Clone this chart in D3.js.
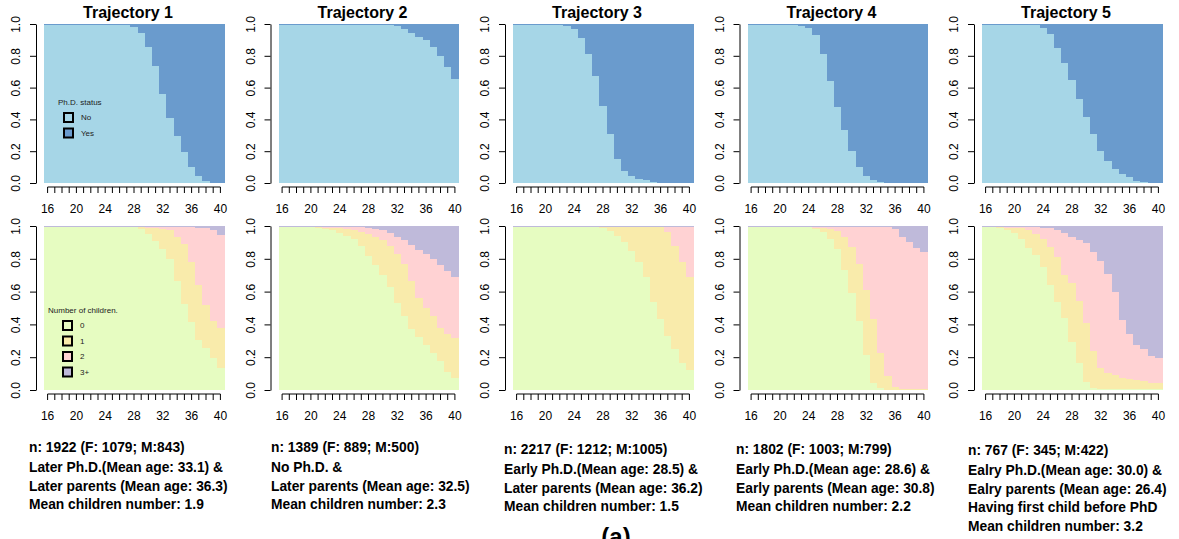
<!DOCTYPE html>
<html>
<head>
<meta charset="utf-8">
<script src="https://cdn.jsdelivr.net/npm/d3@7"></script>
<style>
  body { margin: 0; background: #fff; }
  svg { display: block; font-family: "Liberation Sans", Arial, sans-serif; }
</style>
</head>
<body>
<div id="chart_container"></div>
<script>
// Ages on the x axis and the labelled ones
var ages = [16, 17, 18, 19, 20, 21, 22, 23, 24, 25, 26, 27, 28, 29, 30, 31, 32, 33, 34, 35, 36, 37, 38, 39, 40];
var ageLabels = [16, 20, 24, 28, 32, 36, 40];
var yTicks = [0, 0.2, 0.4, 0.6, 0.8, 1];

var titles = ["Trajectory 1", "Trajectory 2", "Trajectory 3", "Trajectory 4", "Trajectory 5"];

var phdStates = ["No", "Yes"];
var phdColors = ["#a6d6e7", "#6a9bcd"];
var kidStates = ["0", "1", "2", "3+"];
var kidColors = ["#e6fcc1", "#f9ebab", "#ffd2d3", "#bfbada"];

// Ph.D. status shares by age, one row per trajectory
var phdNo = [
  [0.996, 0.996, 0.996, 0.996, 0.996, 0.996, 0.996, 0.996, 0.996, 0.996, 0.996, 0.996, 0.983, 0.946, 0.858, 0.738, 0.561, 0.406, 0.293, 0.192, 0.098, 0.042, 0.01, 0, 0],
  [0.996, 0.996, 0.996, 0.996, 0.996, 0.996, 0.996, 0.996, 0.996, 0.996, 0.996, 0.996, 0.996, 0.996, 0.996, 0.996, 0.987, 0.969, 0.944, 0.918, 0.9, 0.856, 0.8, 0.73, 0.655],
  [0.996, 0.996, 0.996, 0.996, 0.996, 0.996, 0.996, 0.99, 0.969, 0.914, 0.812, 0.674, 0.485, 0.31, 0.151, 0.077, 0.046, 0.027, 0.019, 0.004, 0, 0, 0, 0, 0],
  [0.996, 0.996, 0.996, 0.996, 0.996, 0.996, 0.996, 0.99, 0.973, 0.931, 0.812, 0.644, 0.475, 0.335, 0.203, 0.1, 0.042, 0.021, 0.008, 0.002, 0, 0, 0, 0, 0],
  [0.996, 0.996, 0.996, 0.996, 0.996, 0.996, 0.996, 0.996, 0.975, 0.94, 0.851, 0.757, 0.649, 0.53, 0.416, 0.31, 0.203, 0.14, 0.088, 0.059, 0.04, 0.01, 0.004, 0, 0]
];
var phdYes = [
  [0.004, 0.004, 0.004, 0.004, 0.004, 0.004, 0.004, 0.004, 0.004, 0.004, 0.004, 0.004, 0.017, 0.054, 0.142, 0.262, 0.439, 0.594, 0.707, 0.808, 0.902, 0.958, 0.99, 1, 1],
  [0.004, 0.004, 0.004, 0.004, 0.004, 0.004, 0.004, 0.004, 0.004, 0.004, 0.004, 0.004, 0.004, 0.004, 0.004, 0.004, 0.013, 0.031, 0.056, 0.082, 0.1, 0.144, 0.2, 0.27, 0.345],
  [0.004, 0.004, 0.004, 0.004, 0.004, 0.004, 0.004, 0.01, 0.031, 0.086, 0.188, 0.326, 0.515, 0.69, 0.849, 0.923, 0.954, 0.973, 0.981, 0.996, 1, 1, 1, 1, 1],
  [0.004, 0.004, 0.004, 0.004, 0.004, 0.004, 0.004, 0.01, 0.027, 0.069, 0.188, 0.356, 0.525, 0.665, 0.797, 0.9, 0.958, 0.979, 0.992, 0.998, 1, 1, 1, 1, 1],
  [0.004, 0.004, 0.004, 0.004, 0.004, 0.004, 0.004, 0.004, 0.025, 0.06, 0.149, 0.243, 0.351, 0.47, 0.584, 0.69, 0.797, 0.86, 0.912, 0.941, 0.96, 0.99, 0.996, 1, 1]
];

// Number of children shares by age, one row per trajectory
var kids0 = [
  [0.996, 0.996, 0.996, 0.996, 0.996, 0.996, 0.996, 0.996, 0.996, 0.996, 0.996, 0.996, 0.996, 0.98, 0.953, 0.91, 0.862, 0.8, 0.663, 0.527, 0.412, 0.304, 0.258, 0.193, 0.136],
  [0.996, 0.996, 0.996, 0.996, 0.994, 0.99, 0.984, 0.974, 0.96, 0.94, 0.919, 0.878, 0.817, 0.76, 0.7, 0.629, 0.533, 0.45, 0.371, 0.325, 0.274, 0.227, 0.176, 0.108, 0.075],
  [0.996, 0.996, 0.996, 0.996, 0.996, 0.996, 0.996, 0.996, 0.996, 0.996, 0.996, 0.996, 0.986, 0.97, 0.939, 0.9, 0.85, 0.783, 0.691, 0.535, 0.433, 0.329, 0.248, 0.163, 0.122],
  [0.996, 0.996, 0.996, 0.996, 0.996, 0.996, 0.996, 0.996, 0.992, 0.984, 0.963, 0.923, 0.858, 0.73, 0.594, 0.42, 0.213, 0.04, 0.01, 0.003, 0.003, 0.003, 0.003, 0.003, 0.003],
  [0.996, 0.993, 0.99, 0.976, 0.96, 0.92, 0.868, 0.823, 0.752, 0.64, 0.538, 0.437, 0.295, 0.163, 0.05, 0.01, 0.004, 0.004, 0.004, 0.004, 0.004, 0.004, 0.004, 0.004, 0.004]
];
var kids1 = [
  [0, 0, 0, 0, 0, 0, 0, 0, 0, 0, 0, 0, 0, 0.016, 0.037, 0.075, 0.118, 0.175, 0.27, 0.363, 0.368, 0.336, 0.259, 0.227, 0.244],
  [0, 0, 0, 0, 0.002, 0.004, 0.006, 0.016, 0.028, 0.044, 0.055, 0.085, 0.133, 0.173, 0.213, 0.249, 0.299, 0.32, 0.294, 0.239, 0.223, 0.223, 0.204, 0.232, 0.24],
  [0, 0, 0, 0, 0, 0, 0, 0, 0, 0, 0, 0, 0.01, 0.026, 0.057, 0.096, 0.146, 0.213, 0.305, 0.461, 0.563, 0.636, 0.63, 0.62, 0.568],
  [0, 0, 0, 0, 0, 0, 0, 0, 0.002, 0.006, 0.027, 0.057, 0.11, 0.203, 0.278, 0.351, 0.396, 0.392, 0.213, 0.084, 0.013, 0.005, 0.003, 0.002, 0.001],
  [0, 0.003, 0.004, 0.014, 0.03, 0.066, 0.108, 0.127, 0.168, 0.234, 0.275, 0.264, 0.355, 0.377, 0.36, 0.23, 0.131, 0.101, 0.086, 0.071, 0.061, 0.054, 0.048, 0.041, 0.036]
];
var kids2 = [
  [0, 0, 0, 0, 0, 0, 0, 0, 0, 0, 0, 0, 0, 0, 0.006, 0.011, 0.016, 0.021, 0.063, 0.106, 0.216, 0.35, 0.473, 0.555, 0.567],
  [0, 0, 0, 0, 0, 0.002, 0.006, 0.006, 0.008, 0.012, 0.022, 0.031, 0.04, 0.051, 0.061, 0.082, 0.101, 0.143, 0.217, 0.288, 0.335, 0.347, 0.381, 0.384, 0.375],
  [0, 0, 0, 0, 0, 0, 0, 0, 0, 0, 0, 0, 0, 0, 0, 0, 0, 0, 0, 0, 0, 0.031, 0.118, 0.213, 0.306],
  [0, 0, 0, 0, 0, 0, 0, 0, 0.002, 0.006, 0.006, 0.016, 0.028, 0.063, 0.124, 0.225, 0.387, 0.564, 0.773, 0.909, 0.964, 0.925, 0.897, 0.861, 0.838],
  [0, 0, 0.002, 0.006, 0.006, 0.01, 0.018, 0.042, 0.07, 0.112, 0.163, 0.259, 0.285, 0.375, 0.484, 0.603, 0.652, 0.602, 0.51, 0.352, 0.275, 0.216, 0.196, 0.162, 0.157]
];
var kids3 = [
  [0.004, 0.004, 0.004, 0.004, 0.004, 0.004, 0.004, 0.004, 0.004, 0.004, 0.004, 0.004, 0.004, 0.004, 0.004, 0.004, 0.004, 0.004, 0.004, 0.004, 0.004, 0.01, 0.01, 0.025, 0.053],
  [0.004, 0.004, 0.004, 0.004, 0.004, 0.004, 0.004, 0.004, 0.004, 0.004, 0.004, 0.006, 0.01, 0.016, 0.026, 0.04, 0.067, 0.087, 0.118, 0.148, 0.168, 0.203, 0.239, 0.276, 0.31],
  [0.004, 0.004, 0.004, 0.004, 0.004, 0.004, 0.004, 0.004, 0.004, 0.004, 0.004, 0.004, 0.004, 0.004, 0.004, 0.004, 0.004, 0.004, 0.004, 0.004, 0.004, 0.004, 0.004, 0.004, 0.004],
  [0.004, 0.004, 0.004, 0.004, 0.004, 0.004, 0.004, 0.004, 0.004, 0.004, 0.004, 0.004, 0.004, 0.004, 0.004, 0.004, 0.004, 0.004, 0.004, 0.004, 0.02, 0.067, 0.097, 0.134, 0.158],
  [0.004, 0.004, 0.004, 0.004, 0.004, 0.004, 0.006, 0.008, 0.01, 0.014, 0.024, 0.04, 0.065, 0.085, 0.106, 0.157, 0.213, 0.293, 0.4, 0.573, 0.66, 0.726, 0.752, 0.793, 0.803]
];

// Text under each trajectory
var notes = [
  ["n: 1922 (F: 1079; M:843)", "Later Ph.D.(Mean age: 33.1) &", "Later parents (Mean age: 36.3)", "Mean children number: 1.9"],
  ["n: 1389 (F: 889; M:500)", "No Ph.D. &", "Later parents (Mean age: 32.5)", "Mean children number: 2.3"],
  ["n: 2217 (F: 1212; M:1005)", "Early Ph.D.(Mean age: 28.5) &", "Later parents (Mean age: 36.2)", "Mean children number: 1.5"],
  ["n: 1802 (F: 1003; M:799)", "Early Ph.D.(Mean age: 28.6) &", "Early parents (Mean age: 30.8)", "Mean children number: 2.2"],
  ["n: 767 (F: 345; M:422)", "Ealry Ph.D.(Mean age: 30.0) &", "Ealry parents (Mean age: 26.4)", "Having first child before PhD", "Mean children number: 3.2"]
];

// Layout
var width = 1179;
var height = 539;
var plotW = 180;
var firstLeft = 44;
var panelStep = 234.5;
var topRow = {top: 24, bottom: 183};
var bottomRow = {top: 226, bottom: 390};
var noteX = [29, 271, 504, 736, 968];
var noteY = [452, 452, 454, 454, 455];

var svg = d3.select("#chart_container")
    .append("svg")
    .attr("width", width)
    .attr("height", height)
    .style("background-color", "white");

function drawPanel(left, row, keys, colors, series) {
    var x_scale = d3.scaleBand()
        .domain(ages)
        .range([left, left + plotW])
        .padding(0);
    var y_scale = d3.scaleLinear()
        .domain([0, 1])
        .range([row.bottom, row.top]);

    var rows = ages.map(function(a, i) {
        var r = {age: a};
        keys.forEach(function(k, j) { r[k] = series[j][i]; });
        return r;
    });
    var stacked = d3.stack().keys(keys)(rows);

    svg.append("g")
        .attr("shape-rendering", "crispEdges")
        .selectAll("g")
        .data(stacked)
        .enter()
        .append("g")
        .attr("fill", function(d, i) { return colors[i]; })
        .selectAll("rect")
        .data(function(d) { return d; })
        .enter()
        .append("rect")
        .attr("x", function(d) { return x_scale(d.data.age); })
        .attr("width", x_scale.bandwidth() + 0.5)
        .attr("y", function(d) { return y_scale(d[1]); })
        .attr("height", function(d) { return y_scale(d[0]) - y_scale(d[1]); });

    // y axis, R style with rotated labels
    var y_axis = d3.axisLeft(y_scale)
        .tickValues(yTicks)
        .tickFormat(d3.format(".1f"))
        .tickSize(6)
        .tickSizeOuter(0);
    var gy = svg.append("g")
        .attr("transform", "translate(" + (left - 8) + ",0)")
        .call(y_axis);
    gy.selectAll("text")
        .attr("x", null)
        .attr("dy", null)
        .attr("transform", "translate(-16,0) rotate(-90)")
        .style("text-anchor", "middle")
        .style("font-size", "12px")
        .style("font-family", "Liberation Sans, Arial, sans-serif")
        .attr("fill", "#000");
    gy.selectAll("line, path").attr("stroke", "#000");

    // x axis: a tick at every age, labels every four years
    var x_axis = d3.axisBottom(x_scale)
        .tickSize(6)
        .tickSizeOuter(0)
        .tickFormat(function(d) { return ageLabels.indexOf(d) >= 0 ? d : ""; });
    var gx = svg.append("g")
        .attr("transform", "translate(0," + (row.bottom + 4) + ")")
        .call(x_axis);
    gx.select(".domain").remove();
    gx.append("line")
        .attr("x1", x_scale(ages[0]) + x_scale.bandwidth() / 2)
        .attr("x2", x_scale(ages[ages.length - 1]) + x_scale.bandwidth() / 2)
        .attr("stroke", "#000");
    gx.selectAll("line").attr("stroke", "#000");
    gx.selectAll("text")
        .attr("y", 17)
        .style("font-size", "12px")
        .style("font-family", "Liberation Sans, Arial, sans-serif")
        .attr("fill", "#000");
}

function drawLegend(title, left, top, labels, colors, titleX) {
    var g = svg.append("g").style("font-size", "8px").attr("fill", "#222");
    g.append("text")
        .attr("x", titleX)
        .attr("y", top)
        .attr("dy", "0.35em")
        .text(title);
    labels.forEach(function(lab, i) {
        var cy = top + 15.5 + i * 15.5;
        g.append("rect")
            .attr("x", left)
            .attr("y", cy - 4.5)
            .attr("width", 9)
            .attr("height", 9)
            .attr("fill", colors[i])
            .attr("stroke", "#000")
            .attr("stroke-width", 2);
        g.append("text")
            .attr("x", left + 17)
            .attr("y", cy)
            .attr("dy", "0.35em")
            .text(lab);
    });
}

titles.forEach(function(t, p) {
    var left = firstLeft + p * panelStep;

    drawPanel(left, topRow, phdStates, phdColors, [phdNo[p], phdYes[p]]);
    drawPanel(left, bottomRow, kidStates, kidColors, [kids0[p], kids1[p], kids2[p], kids3[p]]);

    svg.append("text")
        .attr("x", left + plotW / 2 - 6)
        .attr("y", 18)
        .style("text-anchor", "middle")
        .style("font-weight", "bold")
        .style("font-size", "16px")
        .text(t);

    var g = svg.append("g")
        .style("font-weight", "bold")
        .style("font-size", "13.8px");
    notes[p].forEach(function(line, i) {
        g.append("text")
            .attr("x", noteX[p])
            .attr("y", noteY[p] + (i === 0 ? 0 : 20 + (i - 1) * 18.5))
            .text(line);
    });
});

// Legends inside the first trajectory
drawLegend("Ph.D. status", 64, 102, phdStates, phdColors, 58);
drawLegend("Number of children.", 63, 310, kidStates, kidColors, 48);

// Figure tag, sitting at the bottom edge as in the source figure
svg.append("text")
    .attr("x", 616)
    .attr("y", 545)
    .style("text-anchor", "middle")
    .style("font-weight", "bold")
    .style("font-size", "24px")
    .text("(a)");
</script>
</body>
</html>
